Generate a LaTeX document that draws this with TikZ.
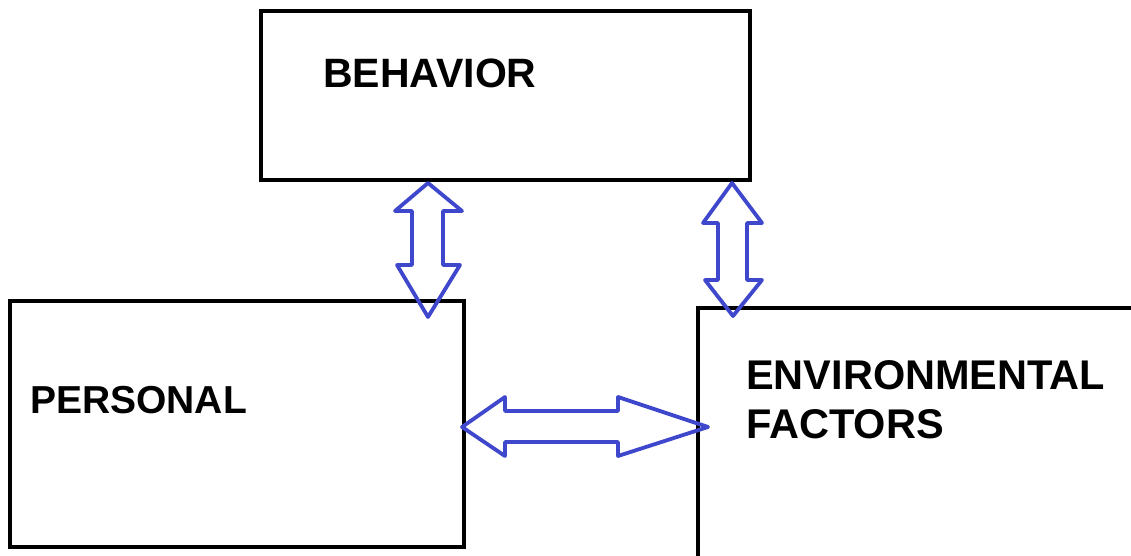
\documentclass[tikz,border=0pt]{standalone}
\usepackage{fontspec}
\setmainfont{Liberation Sans}
\begin{document}
\begin{tikzpicture}[x=1pt,y=-1pt]
\definecolor{paintblue}{RGB}{63,72,204}
\tikzset{
  box/.style={draw=black, line width=4.5pt, rectangle, inner sep=0pt},
  lbl/.style={anchor=base west, inner sep=0pt, font=\fontsize{41}{49}\selectfont\bfseries, align=left},
  darrow/.style={draw=paintblue, line width=3.8pt, line join=round}}
\useasboundingbox (0,0) rectangle (1131,556);
\clip (0,0) rectangle (1131,556);
\fill[white] (0,0) rectangle (1131,556);
% boxes
\node[box, minimum width=489pt, minimum height=169pt] (beh) at (505.5,95.5) {};
\node[box, minimum width=454pt, minimum height=246pt] (per) at (237,424) {};
\node[box, minimum width=502pt, minimum height=312pt] (env) at (949,464) {};
% labels
\node[lbl] (behT) at (323,88) {BEHAVIOR};
\node[lbl, font=\fontsize{39}{47}\selectfont\bfseries] (perT) at (30,413) {PERSONAL};
\node[lbl, font=\fontsize{41.5}{49}\selectfont\bfseries] (envT) at (746,438) {ENVIRONMENTAL\\FACTORS};
% double arrows
\coordinate (a1) at (428,183);
\coordinate (a2) at (428,317);
\draw[darrow] (a1) -- (395,211) -- (412,211) -- (412,265) -- (397,265) -- (a2)
  -- (460,265) -- (443,265) -- (443,211) -- (462,211) -- cycle;
\coordinate (b1) at (732,183);
\coordinate (b2) at (733,316);
\draw[darrow] (b1) -- (703,223) -- (718,223) -- (718,280) -- (705,280) -- (b2)
  -- (762,280) -- (747,280) -- (747,223) -- (762,223) -- cycle;
\coordinate (c1) at (462,427);
\coordinate (c2) at (708,427);
\draw[darrow] (c1) -- (505,397) -- (505,411) -- (618,411) -- (618,397) -- (c2)
  -- (618,456) -- (618,442) -- (505,442) -- (505,456) -- cycle;
\end{tikzpicture}
\end{document}
